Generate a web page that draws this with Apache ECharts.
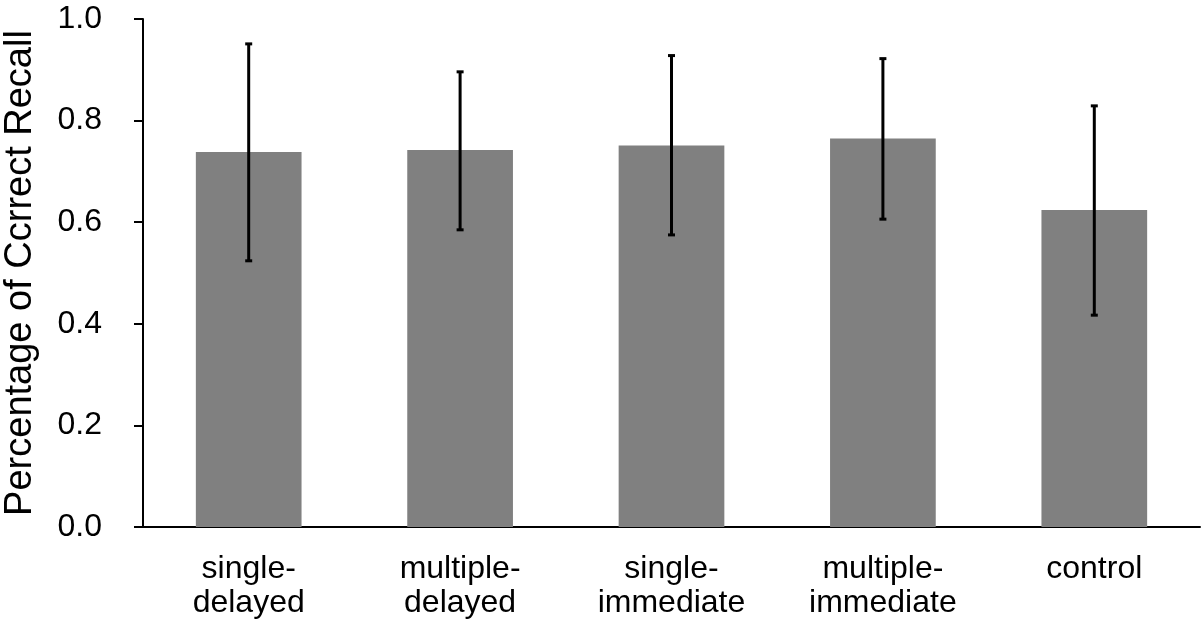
<!DOCTYPE html>
<html>
<head>
<meta charset="utf-8">
<script src="https://cdn.jsdelivr.net/npm/echarts@6/dist/echarts.min.js"></script>
<style>
    html, body { margin: 0; padding: 0; background: #fff; }
    #main { width: 1202px; height: 631px; }
</style>
</head>
<body>
<div id="main"></div>
<script>
// 数据
const categories = ['single-\ndelayed', 'multiple-\ndelayed', 'single-\nimmediate', 'multiple-\nimmediate', 'control'];
const means = [0.738, 0.742, 0.751, 0.765, 0.624];
const errLow = [0.524, 0.585, 0.575, 0.606, 0.417];
const errHigh = [0.951, 0.896, 0.928, 0.922, 0.829];
const yTicks = [0, 0.2, 0.4, 0.6, 0.8, 1.0];

const chart = echarts.init(document.getElementById('main'));

const errData = categories.map((c, i) => [i, errLow[i], errHigh[i]]);
const font = 'Liberation Sans, Arial, sans-serif';

const option = {
    animation: false,
    grid: { left: 143, right: 2, top: 19, bottom: 104, outerBoundsMode: 'none' },
    xAxis: {
        type: 'category',
        data: categories,
        axisLine: { lineStyle: { color: '#000', width: 2 } },
        axisTick: { show: false },
        axisLabel: {
            color: '#000',
            fontFamily: font,
            fontSize: 32,
            lineHeight: 34,
            margin: 25,
            interval: 0
        }
    },
    yAxis: {
        type: 'value',
        min: 0,
        max: 1,
        interval: 0.2,
        name: 'Percentage of Ccrrect Recall',
        nameLocation: 'middle',
        nameGap: 103,
        nameTextStyle: {
            color: '#000',
            fontFamily: font,
            fontSize: 38
        },
        splitLine: { show: false },
        axisLine: { show: true, lineStyle: { color: '#000', width: 2 } },
        axisTick: { show: true, length: 9, lineStyle: { color: '#000', width: 2 } },
        axisLabel: {
            color: '#000',
            fontFamily: font,
            fontSize: 32,
            margin: 41,
            formatter: v => yTicks.indexOf(v) >= 0 ? v.toFixed(1) : ''
        }
    },
    series: [
        {
            type: 'bar',
            data: means,
            barWidth: '50%',
            itemStyle: { color: '#808080' }
        },
        {
            type: 'custom',
            data: errData,
            z: 10,
            renderItem: function (params, api) {
                const x = api.value(0);
                const lo = api.coord([x, api.value(1)]);
                const hi = api.coord([x, api.value(2)]);
                const cap = 3.5;
                const style = { stroke: '#000', lineWidth: 3 };
                return {
                    type: 'group',
                    children: [
                        { type: 'line', shape: { x1: lo[0], y1: lo[1], x2: hi[0], y2: hi[1] }, style: style },
                        { type: 'line', shape: { x1: lo[0] - cap, y1: lo[1], x2: lo[0] + cap, y2: lo[1] }, style: style },
                        { type: 'line', shape: { x1: hi[0] - cap, y1: hi[1], x2: hi[0] + cap, y2: hi[1] }, style: style }
                    ]
                };
            }
        }
    ]
};

chart.setOption(option);
</script>
</body>
</html>
